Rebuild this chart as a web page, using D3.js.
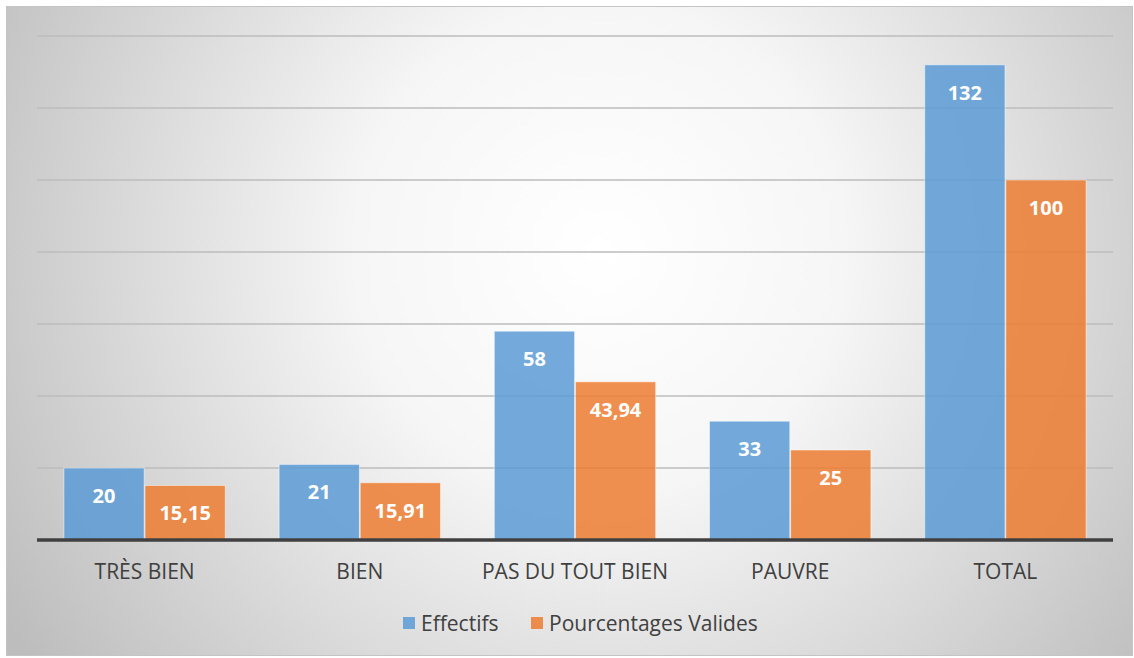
<!DOCTYPE html>
<html>
<head>
<meta charset="utf-8">
<script src="https://cdn.jsdelivr.net/npm/d3@7"></script>
<style>
  html, body { margin: 0; padding: 0; background: #ffffff; }
  svg { display: block; font-family: "Open Sans", Lato, "Noto Sans", sans-serif; }
</style>
</head>
<body>
<svg id="chart" width="1134" height="658"></svg>
<script>
const categories = ["TRÈS BIEN", "BIEN", "PAS DU TOUT BIEN", "PAUVRE", "TOTAL"];
const seriesNames = ["Effectifs", "Pourcentages Valides"];
const effectifs = [20, 21, 58, 33, 132];
const pourcentages = [15.15, 15.91, 43.94, 25, 100];
const valueLabels = [
  ["20", "21", "58", "33", "132"],
  ["15,15", "15,91", "43,94", "25", "100"]
];
const yTicks = [0, 20, 40, 60, 80, 100, 120, 140];

const colors = ["#5B9BD5", "#ED7D31"];
const series = [effectifs, pourcentages];

const svg = d3.select("#chart");
const W = 1134, H = 658;

// background panel with soft radial shading
const defs = svg.append("defs");
const grad = defs.append("radialGradient")
  .attr("id", "bg").attr("gradientUnits", "userSpaceOnUse")
  .attr("cx", 600).attr("cy", 250).attr("r", 700);
grad.append("stop").attr("offset", "0").attr("stop-color", "#ffffff");
grad.append("stop").attr("offset", "0.35").attr("stop-color", "#f6f6f6");
grad.append("stop").attr("offset", "1").attr("stop-color", "#bdbdbd");

svg.append("rect").attr("x", 6.5).attr("y", 6.5).attr("width", W - 8).attr("height", H - 9)
  .attr("fill", "url(#bg)").attr("stroke", "#c4c4c4").attr("stroke-width", 1);

const plot = { left: 37, right: 1113, top: 36, bottom: 540 };

const x = d3.scaleBand().domain(categories)
  .range([plot.left, plot.right]).paddingInner(0.25).paddingOuter(0.125);
const xs = d3.scaleBand().domain(d3.range(series.length))
  .range([0, x.bandwidth()]).paddingInner(0.01);
const y = d3.scaleLinear().domain([0, 140]).range([plot.bottom, plot.top]);

// horizontal gridlines
svg.append("g").selectAll("line").data(yTicks.filter(d => d > 0)).join("line")
  .attr("x1", plot.left).attr("x2", plot.right)
  .attr("y1", d => y(d)).attr("y2", d => y(d))
  .attr("stroke", "#bcbcbc").attr("stroke-width", 1.5);

// bars
const groups = svg.append("g").selectAll("g").data(categories).join("g")
  .attr("transform", d => `translate(${x(d)},0)`);

groups.each(function(cat, i) {
  const g = d3.select(this);
  series.forEach((vals, s) => {
    g.append("rect")
      .attr("x", xs(s)).attr("width", xs.bandwidth())
      .attr("y", y(vals[i])).attr("height", y(0) - y(vals[i]))
      .attr("fill", colors[s]).attr("fill-opacity", 0.85)
      .attr("stroke", "#ffffff").attr("stroke-opacity", 0.5).attr("stroke-width", 1);
    g.append("text")
      .attr("x", xs(s) + xs.bandwidth() / 2)
      .attr("y", y(vals[i]) + 35)
      .attr("text-anchor", "middle")
      .attr("fill", "#ffffff").attr("font-weight", 700).attr("font-size", 20)
      .text(valueLabels[s][i]);
  });
});

// category axis
svg.append("line").attr("x1", plot.left).attr("x2", plot.right)
  .attr("y1", plot.bottom).attr("y2", plot.bottom)
  .attr("stroke", "#404040").attr("stroke-width", 3.5);

const xAxis = d3.axisBottom(x).tickSize(0).tickPadding(24);
const ax = svg.append("g").attr("transform", `translate(0,${plot.bottom})`).call(xAxis);
ax.select(".domain").remove();
ax.selectAll("text").attr("font-size", 21).attr("fill", "#404040")
  .attr("font-family", "\"Open Sans\", Lato, sans-serif");

// legend
const legend = svg.append("g").attr("transform", "translate(403,623)");
const items = [{ x: 0, name: seriesNames[0], c: colors[0] }, { x: 128, name: seriesNames[1], c: colors[1] }];
items.forEach(it => {
  legend.append("rect").attr("x", it.x).attr("y", -6).attr("width", 12).attr("height", 12)
    .attr("fill", it.c).attr("fill-opacity", 0.85);
  legend.append("text").attr("x", it.x + 18).attr("y", 7.5)
    .attr("font-size", 21).attr("fill", "#404040").text(it.name);
});
</script>
</body>
</html>
